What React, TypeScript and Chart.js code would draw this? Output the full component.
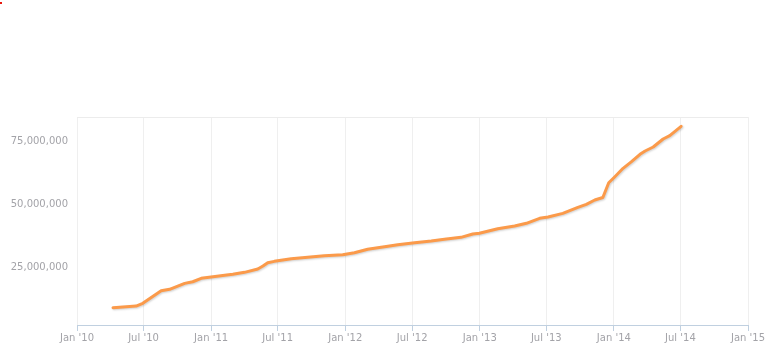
import React, { useEffect, useRef } from "react";
import { Chart, registerables } from "chart.js";

Chart.register(...registerables);

const dates = [
  "2010-04-09", "2010-06-11", "2010-06-29", "2010-08-18", "2010-09-10",
  "2010-10-21", "2010-11-12", "2010-12-05", "2011-01-01", "2011-02-07",
  "2011-03-01", "2011-04-02", "2011-05-08", "2011-05-22", "2011-06-04",
  "2011-06-22", "2011-08-07", "2011-09-21", "2011-11-05", "2011-12-25",
  "2012-01-26", "2012-03-02", "2012-04-17", "2012-05-23", "2012-07-08",
  "2012-08-22", "2012-09-27", "2012-11-11", "2012-12-13", "2012-12-31",
  "2013-02-19", "2013-04-06", "2013-05-08", "2013-06-13", "2013-07-06",
  "2013-08-15", "2013-09-25", "2013-10-18", "2013-11-10", "2013-12-02",
  "2013-12-18", "2014-01-03", "2014-01-26", "2014-02-18", "2014-03-13",
  "2014-03-27", "2014-04-18", "2014-05-15", "2014-06-02", "2014-07-03",
];

const users = [
  8.77e6, 9.45e6, 10.53e6, 15.55e6, 16.11e6,
  18.5e6, 19.14e6, 20.49e6, 21.01e6, 21.69e6,
  22.09e6, 22.89e6, 24.2e6, 25.4e6, 26.71e6,
  27.27e6, 28.31e6, 28.87e6, 29.51e6, 29.9e6,
  30.7e6, 32.06e6, 33.09e6, 33.89e6, 34.69e6,
  35.37e6, 36.04e6, 36.84e6, 38.16e6, 38.44e6,
  40.27e6, 41.35e6, 42.42e6, 44.42e6, 44.94e6,
  46.4e6, 48.8e6, 50.0e6, 51.72e6, 52.71e6,
  58.6e6, 60.9e6, 64.35e6, 67.0e6, 69.94e6,
  71.25e6, 72.85e6, 76.04e6, 77.35e6, 81.1e6,
];

const tickDates = [
  "2010-01-01", "2010-07-01", "2011-01-01", "2011-07-01", "2012-01-01",
  "2012-07-01", "2013-01-01", "2013-07-01", "2014-01-01", "2014-07-01",
  "2015-01-01",
];
const tickLabels = [
  "Jan '10", "Jul '10", "Jan '11", "Jul '11", "Jan '12",
  "Jul '12", "Jan '13", "Jul '13", "Jan '14", "Jul '14", "Jan '15",
];
const yTicks = [25000000, 50000000, 75000000];
const yMin = 1900000;
const yMax = 84800000;

const toMs = (d: string) => Date.parse(d + "T00:00:00Z");

const topBorder = {
  id: "topBorder",
  beforeDatasetsDraw(chart: any) {
    const { ctx, chartArea } = chart;
    ctx.save();
    ctx.strokeStyle = "#ececec";
    ctx.lineWidth = 1;
    ctx.beginPath();
    ctx.moveTo(chartArea.left, Math.round(chartArea.top) + 0.5);
    ctx.lineTo(chartArea.right, Math.round(chartArea.top) + 0.5);
    ctx.stroke();
    ctx.restore();
  },
};

const lineShadow = {
  id: "lineShadow",
  beforeDatasetDraw(chart: any) {
    const ctx = chart.ctx;
    ctx.save();
    ctx.shadowColor = "rgba(0,0,0,0.18)";
    ctx.shadowBlur = 2;
    ctx.shadowOffsetX = 1;
    ctx.shadowOffsetY = 1;
  },
  afterDatasetDraw(chart: any) {
    chart.ctx.restore();
  },
};

export default function App() {
  const ref = useRef<HTMLCanvasElement | null>(null);

  useEffect(() => {
    if (!ref.current) return;
    const tickMs = tickDates.map(toMs);
    const chart = new Chart(ref.current, {
      type: "line",
      data: {
        datasets: [
          {
            data: dates.map((d, i) => ({ x: toMs(d), y: users[i] })),
            borderColor: "#fb9a4a",
            borderWidth: 3,
            pointRadius: 0,
            tension: 0,
            borderJoinStyle: "round",
            borderCapStyle: "round",
            fill: false,
          },
        ],
      },
      options: {
        animation: false,
        responsive: false,
        devicePixelRatio: 1,
        layout: { padding: { left: 0, right: 23, top: 117, bottom: 0 } },
        plugins: { legend: { display: false }, tooltip: { enabled: false } },
        scales: {
          x: {
            type: "linear",
            min: tickMs[0],
            max: tickMs[tickMs.length - 1],
            afterBuildTicks: (scale: any) => {
              scale.ticks = tickMs.map((v) => ({ value: v }));
            },
            afterFit: (scale: any) => {
              scale.height = 32;
            },
            ticks: {
              autoSkip: false,
              maxRotation: 0,
              padding: 1,
              color: "#a3a3a8",
              font: { family: "DejaVu Sans", size: 10 },
              callback: (v: any) => {
                const i = tickMs.indexOf(Number(v));
                return i >= 0 ? tickLabels[i] : "";
              },
            },
            grid: {
              color: "#efefef",
              tickColor: "#c0d0e0",
              tickLength: 6,
              drawTicks: true,
            },
            border: { display: true, color: "#c0d0e0" },
          },
          y: {
            type: "linear",
            min: yMin,
            max: yMax,
            afterBuildTicks: (scale: any) => {
              scale.ticks = yTicks.map((v) => ({ value: v }));
            },
            afterFit: (scale: any) => {
              scale.width = 77;
            },
            ticks: {
              padding: 9,
              color: "#a3a3a8",
              font: { family: "DejaVu Sans", size: 10 },
              callback: (v: any) => Number(v).toLocaleString("en-US"),
            },
            grid: { display: false, drawTicks: false },
            border: { display: false },
          },
        },
      },
      plugins: [topBorder, lineShadow],
    } as any);
    return () => chart.destroy();
  }, []);

  return (
    <div style={{ position: "fixed", left: 0, top: 0, width: 771, height: 357, background: "#fff" }}>
      <div style={{ position: "absolute", left: 0, top: 2, width: 2, height: 2, background: "#e8190f" }} />
      <canvas ref={ref} width={771} height={357} style={{ display: "block" }} />
    </div>
  );
}
